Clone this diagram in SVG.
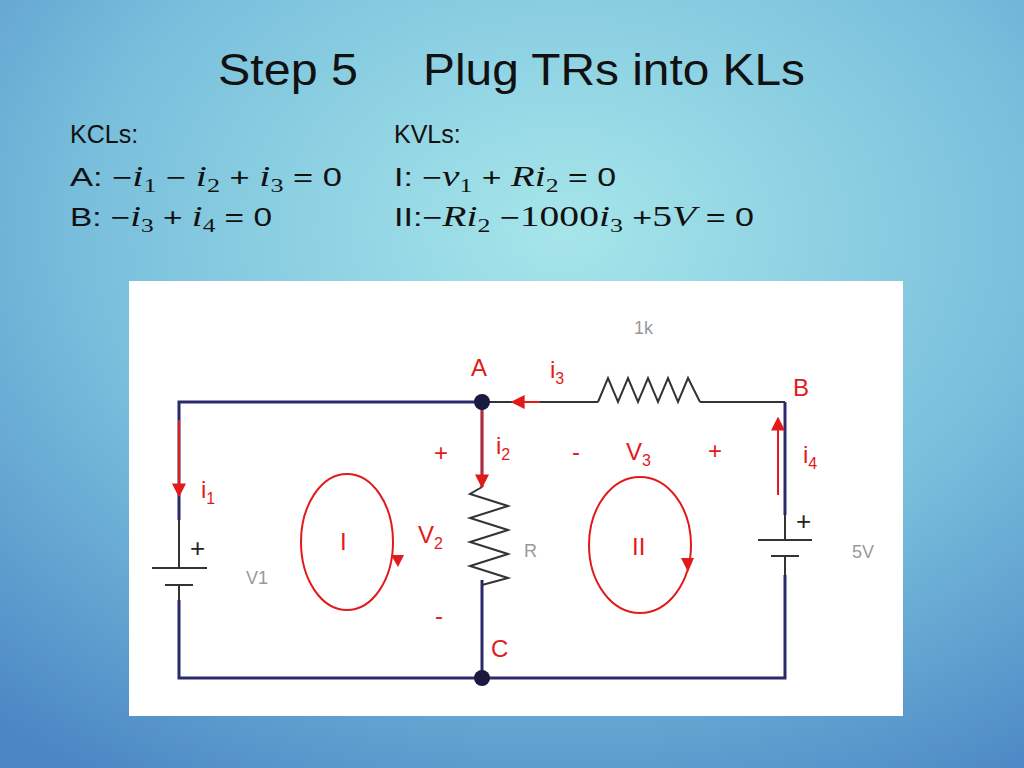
<svg xmlns="http://www.w3.org/2000/svg" width="1024" height="768" viewBox="0 0 1024 768">
<defs>
<radialGradient id="bg" cx="0.55" cy="0.3" r="0.85">
<stop offset="0" stop-color="#a6e6ea"/>
<stop offset="0.55" stop-color="#79bfdc"/>
<stop offset="1" stop-color="#4a86c4"/>
</radialGradient>
<marker id="arb" viewBox="0 0 10 10" refX="9" refY="5" markerWidth="14" markerHeight="14" markerUnits="userSpaceOnUse" orient="auto"><path d="M0,0 L10,5 L0,10 z" fill="#e21a1a"/></marker>
</defs>
<style>
.t{font-family:"Liberation Sans",sans-serif;fill:#111}
.m{font-family:"Liberation Serif",serif;font-style:italic;font-size:29px}
.n{font-family:"Liberation Serif",serif;font-size:29px}
.s{font-family:"Liberation Serif",serif;font-size:19px}
.r{font-family:"Liberation Sans",sans-serif;fill:#e21a1a;font-size:24px}
.g{font-family:"Liberation Sans",sans-serif;fill:#999;font-size:18px}
.w{stroke:#2a2a6a;stroke-width:3;fill:none}
.c{stroke:#333;stroke-width:2;fill:none}
.red{stroke:#e21a1a;stroke-width:2;fill:none}
</style>
<rect width="1024" height="768" fill="url(#bg)"/>
<text class="t" x="218" y="85" font-size="44" textLength="140" lengthAdjust="spacingAndGlyphs">Step 5</text>
<text class="t" x="423" y="85" font-size="44" textLength="382" lengthAdjust="spacingAndGlyphs">Plug TRs into KLs</text>
<g class="t" font-size="25">
<text x="70" y="143">KCLs:</text>
<text x="70" y="186" textLength="272" lengthAdjust="spacingAndGlyphs">A: −<tspan class="m">i</tspan><tspan class="s" dy="6">1</tspan><tspan dy="-6"> − </tspan><tspan class="m">i</tspan><tspan class="s" dy="6">2</tspan><tspan dy="-6"> + </tspan><tspan class="m">i</tspan><tspan class="s" dy="6">3</tspan><tspan dy="-6"> = 0</tspan></text>
<text x="70" y="226" textLength="202" lengthAdjust="spacingAndGlyphs">B: −<tspan class="m">i</tspan><tspan class="s" dy="6">3</tspan><tspan dy="-6"> + </tspan><tspan class="m">i</tspan><tspan class="s" dy="6">4</tspan><tspan dy="-6"> = 0</tspan></text>
<text x="394" y="143">KVLs:</text>
<text x="394" y="186" textLength="222" lengthAdjust="spacingAndGlyphs">I: −<tspan class="m">v</tspan><tspan class="s" dy="6">1</tspan><tspan dy="-6"> + </tspan><tspan class="m">Ri</tspan><tspan class="s" dy="6">2</tspan><tspan dy="-6"> = 0</tspan></text>
<text x="394" y="226" textLength="360" lengthAdjust="spacingAndGlyphs">II:−<tspan class="m">Ri</tspan><tspan class="s" dy="6">2</tspan><tspan dy="-6"> −</tspan><tspan class="n">1000</tspan><tspan class="m">i</tspan><tspan class="s" dy="6">3</tspan><tspan dy="-6"> +</tspan><tspan class="n">5</tspan><tspan class="m">V</tspan> = 0</text>
</g>
<rect x="129" y="281" width="774" height="435" fill="#fff"/>
<g id="wires">
<path class="w" d="M179,520 V402 H482 M482,402 V487 M482,580 V678 M179,600 V678 H785 V575 M785,402 V515"/>
<path class="c" d="M482,402 H598 M700,402 H785"/>
</g>
<g id="res-1k"><path class="c" d="M598,402 L608,378 L618,402 L628,378 L638,402 L648,378 L658,402 L668,378 L678,402 L688,378 L700,402"/><text class="g" x="634" y="334">1k</text></g>
<g id="res-R"><path class="c" d="M482,487 L470,494 L508,506 L470,518 L508,530 L470,542 L508,554 L470,566 L508,578 L482,585"/><text class="g" x="524" y="557">R</text></g>
<g id="V1"><path class="c" d="M179,520 V568 M152,568 H207 M165,585 H193 M179,585 V600"/><text x="190" y="557" font-family="Liberation Sans" font-size="26" fill="#222">+</text><text class="g" x="246" y="584">V1</text></g>
<g id="V5"><path class="c" d="M785,515 V540 M758,540 H812 M771,556 H799 M785,556 V575"/><text x="796" y="530" font-family="Liberation Sans" font-size="26" fill="#222">+</text><text class="g" x="852" y="558">5V</text></g>
<circle cx="482" cy="402" r="8" fill="#1a1a40"/>
<circle cx="482" cy="678" r="8" fill="#1a1a40"/>
<g id="connectors">
<path class="red" d="M179,420 V496" marker-end="url(#arb)"/>
<path class="red" d="M482,410 V487" marker-end="url(#arb)"/>
<path class="red" d="M540,402 H512" marker-end="url(#arb)"/>
<path class="red" d="M778,495 V418" marker-end="url(#arb)"/>
<ellipse class="red" cx="347" cy="542" rx="46" ry="68"/>
<path d="M391,555 L404,555 L398,567 z" fill="#e21a1a"/>
<ellipse class="red" cx="640" cy="545" rx="51" ry="68"/>
<path d="M681,558 L694,558 L688,572 z" fill="#e21a1a"/>
</g>
<g class="r">
<text x="471" y="376">A</text>
<text x="550" y="378">i<tspan font-size="16" dy="6">3</tspan></text>
<text x="793" y="396">B</text>
<text x="434" y="461">+</text>
<text x="496" y="454">i<tspan font-size="16" dy="6">2</tspan></text>
<text x="572" y="460">-</text>
<text x="626" y="460">V<tspan font-size="16" dy="6">3</tspan></text>
<text x="708" y="459">+</text>
<text x="803" y="463">i<tspan font-size="16" dy="6">4</tspan></text>
<text x="201" y="498">i<tspan font-size="16" dy="6">1</tspan></text>
<text x="340" y="550">I</text>
<text x="418" y="543">V<tspan font-size="16" dy="6">2</tspan></text>
<text x="632" y="555">II</text>
<text x="435" y="624">-</text>
<text x="491" y="657">C</text>
</g>
</svg>
